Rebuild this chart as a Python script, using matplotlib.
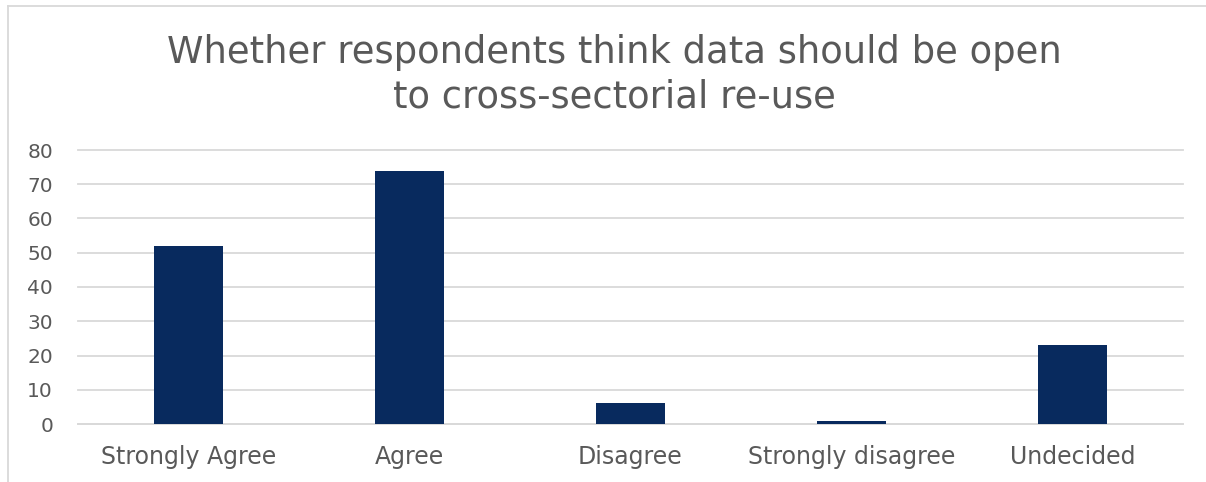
import matplotlib
matplotlib.use("Agg")
import matplotlib.pyplot as plt
from matplotlib.lines import Line2D

categories = ["Strongly Agree", "Agree", "Disagree", "Strongly disagree", "Undecided"]
counts = [52, 74, 6, 1, 23]
yticks = [0, 10, 20, 30, 40, 50, 60, 70, 80]

title_lines = ["Whether respondents think data should be open", "to cross-sectorial re-use"]
bar_color = "#082A5E"
text_color = "#595959"
grid_color = "#D9D9D9"

plt.rcParams['font.family'] = ['DejaVu Sans']

W, H = 1206, 482
fig = plt.figure(figsize=(W / 100, H / 100), dpi=100)
ax = fig.add_axes([78 / W, 1 - 424 / H, (1183 - 78) / W, (424 - 150) / H])

x = range(len(categories))
ax.bar(x, counts, width=0.31, color=bar_color, zorder=3)
ax.set_xlim(-0.5, len(categories) - 0.5)
ax.set_ylim(0, 80)
ax.set_yticks(yticks)
ax.set_xticks(list(x))
ax.set_xticklabels(categories)
ax.yaxis.grid(True, color=grid_color, linewidth=1.3, zorder=0)
for gl in ax.get_ygridlines():
    gl.set_clip_on(False)
ax.tick_params(axis='both', length=0, colors=text_color)
ax.tick_params(axis='x', pad=15, labelsize=17)
ax.tick_params(axis='y', pad=18, labelsize=14.5)
for s in ['top', 'right', 'left']:
    ax.spines[s].set_visible(False)
ax.spines['bottom'].set_color(grid_color)
ax.spines['bottom'].set_linewidth(1.3)

# title, two lines placed on their baselines
for i, line in enumerate(title_lines):
    fig.text(614 / W, 1 - (63 + 45 * i) / H, line, ha='center', va='baseline',
             fontsize=26.6, color=text_color)

# chart area border (cropped at right and bottom)
fig.add_artist(Line2D([8 / W, 1.0], [1 - 6 / H, 1 - 6 / H], color=grid_color, lw=1.3,
                      transform=fig.transFigure))
fig.add_artist(Line2D([8 / W, 8 / W], [0, 1 - 6 / H], color=grid_color, lw=1.3,
                      transform=fig.transFigure))

fig.savefig("out.png", dpi=100)
